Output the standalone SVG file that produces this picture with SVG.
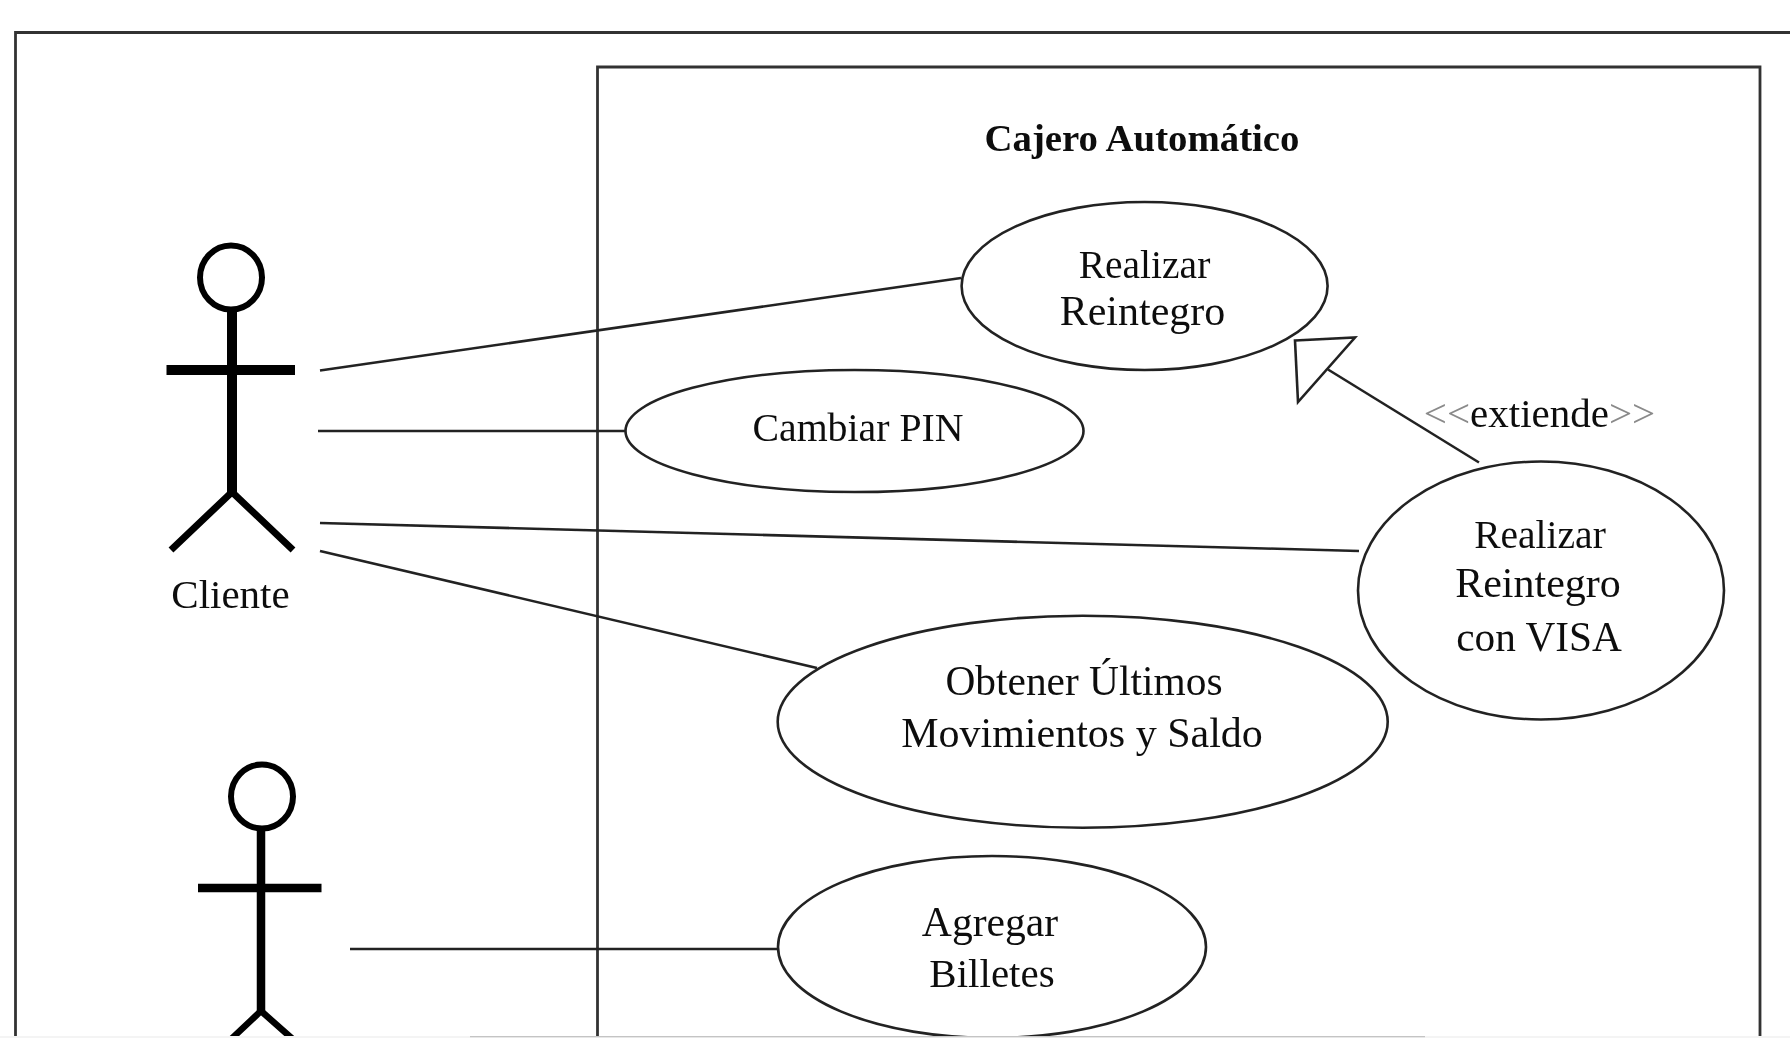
<svg xmlns="http://www.w3.org/2000/svg" width="1790" height="1040" viewBox="0 0 1790 1040">
<defs><filter id="soft" x="0" y="0" width="100%" height="100%" filterUnits="userSpaceOnUse" primitiveUnits="userSpaceOnUse"><feGaussianBlur stdDeviation="0.6"/></filter></defs>
<style>
text{font-family:"Liberation Serif","Times New Roman",serif;font-size:41px;fill:#111;text-anchor:middle}
.uc{fill:#fff;stroke:#222;stroke-width:2.6}
.frame{fill:none;stroke:#333;stroke-width:2.8}
.conn{fill:none;stroke:#222;stroke-width:2.6}
.head{fill:#fff;stroke:#000;stroke-width:6}
.limb{fill:none;stroke:#000}
.pale{fill:#8a8a8a}
</style>
<rect width="1790" height="1040" fill="#fff"/>
<g filter="url(#soft)">
<g id="frames">
<path class="frame" d="M15.5 1040V32.5H1790"/>
<path class="frame" d="M597.5 1040V67H1760V1040"/>
</g>
<g id="connectors">
<line class="conn" x1="320" y1="370.5" x2="961" y2="278"/>
<line class="conn" x1="318" y1="431" x2="626" y2="431"/>
<line class="conn" x1="320" y1="523" x2="1359" y2="551"/>
<line class="conn" x1="320" y1="551" x2="817" y2="668"/>
<line class="conn" x1="350" y1="949" x2="778" y2="949"/>
<line class="conn" x1="1328" y1="369.5" x2="1479" y2="462.5"/>
<polygon class="conn" points="1295,340.5 1355,337.5 1298,402"/>
</g>
<g id="actor-cliente">
<ellipse class="head" cx="231" cy="277.5" rx="31" ry="32"/>
<line class="limb" stroke-width="10" x1="232" y1="310" x2="232" y2="493"/>
<line class="limb" stroke-width="10" x1="166.5" y1="370" x2="295" y2="370"/>
<path class="limb" stroke-width="7" d="M171 550 232 492 293 550"/>
<text x="230.5" y="608">Cliente</text>
</g>
<g id="actor-2">
<ellipse class="head" cx="262" cy="796.5" rx="31" ry="32"/>
<line class="limb" stroke-width="8.5" x1="261" y1="829" x2="261" y2="1013"/>
<line class="limb" stroke-width="8.5" x1="198" y1="888" x2="321.5" y2="888"/>
<path class="limb" stroke-width="6.5" d="M228 1042 261 1011 296 1042"/>
</g>
<g id="uc-title"><text x="1142" y="151" style="font-weight:700;font-size:38.8px">Cajero Automático</text></g>
<g id="uc-reintegro">
<ellipse class="uc" cx="1144.6" cy="286" rx="183" ry="84"/>
<text x="1144.5" y="278" style="font-size:39.5px">Realizar</text>
<text x="1142.5" y="325" style="font-size:42px">Reintegro</text>
</g>
<g id="uc-pin">
<ellipse class="uc" cx="854.5" cy="431" rx="229" ry="61"/>
<text x="858" y="441" style="font-size:39.8px">Cambiar PIN</text>
</g>
<g id="uc-visa">
<ellipse class="uc" cx="1541" cy="590.5" rx="183" ry="129"/>
<text x="1540" y="547.5" style="font-size:39.5px">Realizar</text>
<text x="1538" y="597" style="font-size:42px">Reintegro</text>
<text x="1539" y="651" style="font-size:41.3px">con VISA</text>
</g>
<g id="uc-movimientos">
<ellipse class="uc" cx="1082.7" cy="721.7" rx="305" ry="106"/>
<text x="1084" y="695" style="font-size:41.4px">Obtener Últimos</text>
<text x="1082" y="747" style="font-size:42px">Movimientos y Saldo</text>
</g>
<g id="uc-billetes">
<ellipse class="uc" cx="992" cy="947" rx="214" ry="91"/>
<text x="990" y="936" style="font-size:41.6px">Agregar</text>
<text x="992" y="987">Billetes</text>
</g>
<g id="label-extiende"><text x="1539.5" y="427"><tspan class="pale">&lt;&lt;</tspan>extiende<tspan class="pale">&gt;&gt;</tspan></text></g>
</g>
<g id="bottom-bar">
<rect x="0" y="1036" width="1790" height="4" fill="#fff"/>
<rect x="0" y="1036" width="470" height="2" fill="#f4f4f4"/>
<rect x="1425" y="1036" width="365" height="2" fill="#f4f4f4"/>
<rect x="470" y="1036" width="955" height="1.4" fill="#c4c4c4"/>
</g>
</svg>
